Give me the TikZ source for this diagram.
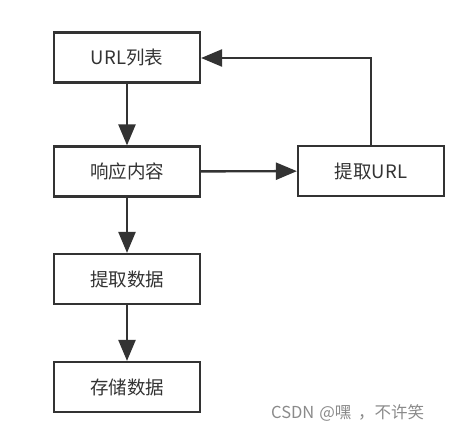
\documentclass[tikz,border=0pt]{standalone}
\usepackage{fontspec}
\setmainfont{Noto Sans CJK SC}
\usetikzlibrary{arrows.meta}
\definecolor{ln}{HTML}{333333}
\definecolor{tx}{HTML}{333333}
\definecolor{wm}{HTML}{8A8A8A}
\begin{document}
\begin{tikzpicture}[x=1pt,y=-1pt,
  box/.style={draw=ln,line width=2.2pt,fill=white,minimum width=146pt,minimum height=50pt,inner sep=0pt,font=\fontsize{18.5}{20}\selectfont,text=tx},
  conn/.style={draw=ln,line width=2.4pt,-{Triangle[width=17pt,length=21pt]}}]
\useasboundingbox (0,0) rectangle (456,434);
\node[box] (a) at (127,57.5) {URL列表};
\node[box] (b) at (127,171.5) {响应内容};
\node[box] (c) at (371,171) {提取URL};
\node[box] (d) at (127,279) {提取数据};
\node[box] (e) at (127,387) {存储数据};
\coordinate (t) at (c.north |- 0,58);
\draw[conn] (a) -- (b);
\draw[conn] (b) -- (c);
\draw[conn] (b) -- (d);
\draw[conn] (d) -- (e);
\draw[conn] (c.north) -- (t) -- (a.east |- t);
\node[font=\fontsize{16.5}{18}\selectfont,text=wm,anchor=west,inner sep=0pt] (w) at (271,413) {CSDN\hspace{0.3em}@嘿\hspace{0.4em}，不许笑};
\end{tikzpicture}
\end{document}
